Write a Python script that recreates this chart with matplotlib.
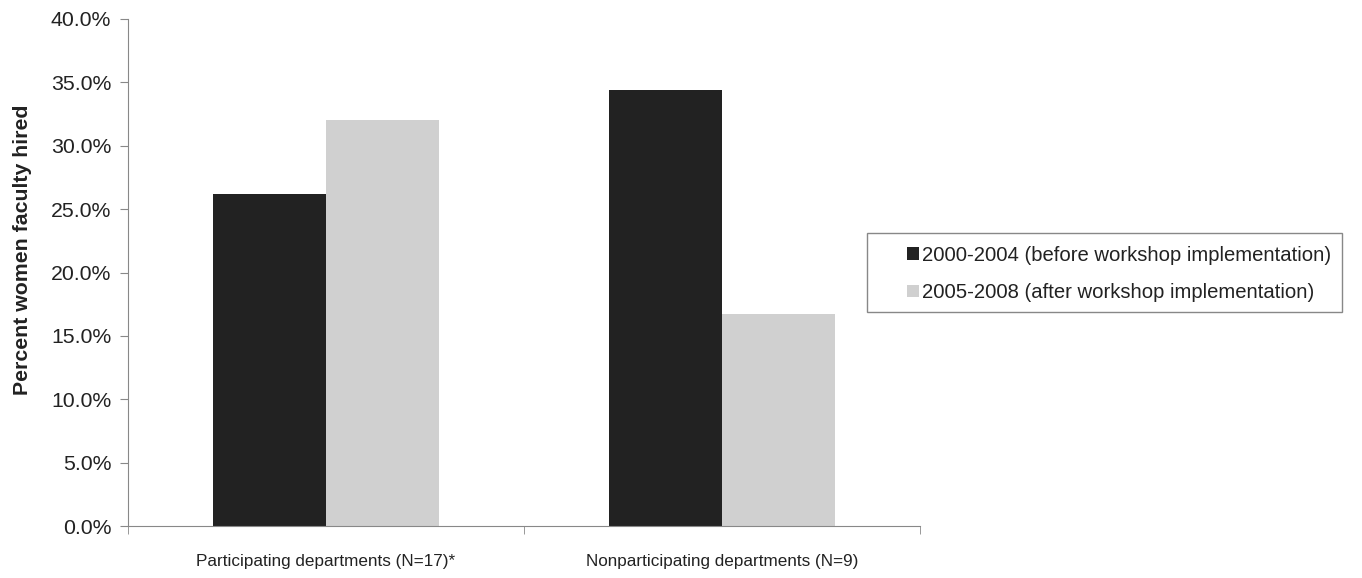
import numpy as np
import matplotlib
matplotlib.use("Agg")
import matplotlib.pyplot as plt
from matplotlib.ticker import FuncFormatter, FixedLocator
from matplotlib.patches import Rectangle

plt.rcParams['font.family'] = ['Liberation Sans', 'DejaVu Sans']

# data
categories = ["Participating departments (N=17)*", "Nonparticipating departments (N=9)"]
before = [26.2, 34.4]   # 2000-2004
after = [32.0, 16.7]    # 2005-2008
series_labels = ["2000-2004 (before workshop implementation)",
                 "2005-2008 (after workshop implementation)"]

W, H = 1362, 578
fig = plt.figure(figsize=(W / 100, H / 100), dpi=100)
ax = fig.add_axes([128/W, 1 - 526/H, (920 - 128)/W, (526 - 19)/H])

x = np.arange(len(categories))
w = 1 / 3.5
ax.bar(x - w/2, before, w, color="#222222", label=series_labels[0])
ax.bar(x + w/2, after, w, color="#d0d0d0", label=series_labels[1])

ax.set_xlim(-0.5, 1.5)
ax.set_ylim(0, 40)
ax.set_yticks(np.arange(0, 40.1, 5))
ax.yaxis.set_major_formatter(FuncFormatter(lambda v, p: f"{v:.1f}%"))

# category labels centred, ticks on category boundaries
ax.set_xticks(x)
ax.set_xticklabels(categories, fontsize=12.3)
ax.xaxis.set_minor_locator(FixedLocator([-0.5, 0.5, 1.5]))
ax.tick_params(axis='x', which='major', length=0, pad=20, colors="#222222")
ax.tick_params(axis='x', which='minor', length=6, color="#888888", direction='out')
ax.tick_params(axis='y', length=6, color="#888888", labelsize=15.3, labelcolor="#222222", pad=6)

for s in ["top", "right"]:
    ax.spines[s].set_visible(False)
for s in ["left", "bottom"]:
    ax.spines[s].set_color("#888888")

ax.set_ylabel("Percent women faculty hired", fontsize=15.3, fontweight='bold', color="#222222")
ax.yaxis.set_label_coords(-0.121, 0.544)

# legend box drawn separately (handles sit well inside the left edge)
fig.patches.append(Rectangle((867/W, 1 - 312/H), (1342 - 867)/W, (312 - 233)/H,
                             transform=fig.transFigure, fill=False,
                             edgecolor="#888888", linewidth=1.0))
leg = fig.legend(loc='center left', bbox_to_anchor=(907/W, 1 - 274/H),
                 borderaxespad=0, borderpad=0, fontsize=14.6, frameon=False,
                 handlelength=0.6, handleheight=0.6, handletextpad=0.15,
                 labelspacing=0.9)
for t in leg.get_texts():
    t.set_color("#222222")

fig.savefig("out.png", dpi=100)
